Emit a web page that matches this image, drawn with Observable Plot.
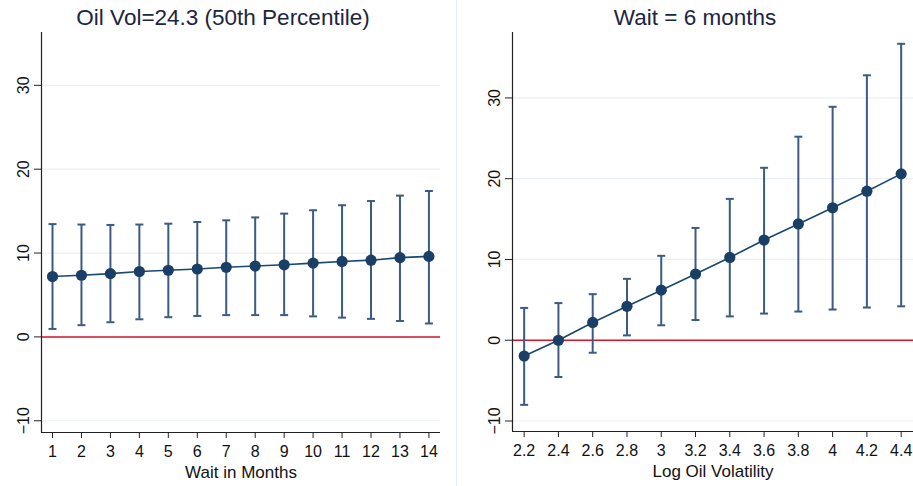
<!DOCTYPE html>
<html>
<head>
<meta charset="utf-8">
<script src="https://cdn.jsdelivr.net/npm/d3@7"></script>
<script src="https://cdn.jsdelivr.net/npm/@observablehq/plot@0.6"></script>
<style>
  html, body { margin: 0; padding: 0; background: #fff; }
  #wrap { position: relative; width: 913px; height: 486px; overflow: hidden; font-family: "Liberation Sans", Arial, sans-serif; }
  #left { position: absolute; left: 0; top: 0; }
  #right { position: absolute; left: 457px; top: 0; }
  #sep { position: absolute; left: 456px; top: 0; width: 1px; height: 486px; background: #e6edf3; }
</style>
</head>
<body>
<div id="wrap"><div id="left"></div><div id="sep"></div><div id="right"></div></div>
<script>
// ---- Data ----
const leftTitle = "Oil Vol=24.3 (50th Percentile)";
const rightTitle = "Wait = 6 months";
const leftXLabel = "Wait in Months";
const rightXLabel = "Log Oil Volatility";

const waitMonths = [1, 2, 3, 4, 5, 6, 7, 8, 9, 10, 11, 12, 13, 14];
const waitMean = [7.2, 7.35, 7.55, 7.8, 7.95, 8.1, 8.3, 8.45, 8.6, 8.8, 9.0, 9.15, 9.45, 9.6];
const waitLo = [0.95, 1.4, 1.75, 2.1, 2.35, 2.5, 2.6, 2.6, 2.6, 2.45, 2.3, 2.15, 1.9, 1.6];
const waitHi = [13.45, 13.4, 13.35, 13.4, 13.5, 13.7, 13.9, 14.25, 14.7, 15.1, 15.7, 16.2, 16.85, 17.4];

const logVol = [2.2, 2.4, 2.6, 2.8, 3.0, 3.2, 3.4, 3.6, 3.8, 4.0, 4.2, 4.4];
const volMean = [-1.95, 0.0, 2.2, 4.2, 6.2, 8.2, 10.25, 12.4, 14.4, 16.4, 18.45, 20.6];
const volLo = [-8.0, -4.55, -1.55, 0.6, 1.85, 2.5, 2.95, 3.3, 3.55, 3.8, 4.05, 4.2];
const volHi = [4.0, 4.6, 5.7, 7.6, 10.45, 13.9, 17.5, 21.35, 25.2, 28.9, 32.8, 36.7];

const yTicks = [-10, 0, 10, 20, 30];
const waitTicks = waitMonths;
const volTicks = logVol;

// ---- Styles ----
const markerColor = "#1a3f66";
const barColor = "#3b5b82";
const lineColor = "#1a476f";
const zeroColor = "#d3172e";
const gridColor = "#eaf0f3";
const font = "'Liberation Sans', Arial, sans-serif";

const capSymbol = {
  draw(ctx, size) {
    const w = Math.sqrt(size) / 2;
    ctx.moveTo(-w, 0);
    ctx.lineTo(w, 0);
  }
};

function panel({xs, mean, lo, hi, xTicks, xDomain, yDomain, width, marginLeft, marginRight, marginBottom, title, xLabel, tickFmt}) {
  const rows = xs.map((x, i) => ({x, mean: mean[i], lo: lo[i], hi: hi[i]}));
  return Plot.plot({
    width, height: 486,
    marginLeft, marginRight, marginTop: 32, marginBottom,
    style: {fontFamily: font, background: "transparent", overflow: "visible"},
    x: {domain: xDomain},
    y: {domain: yDomain},
    marks: [
      Plot.gridY(yTicks, {stroke: gridColor, strokeOpacity: 1, strokeWidth: 1.2}),
      Plot.ruleY([0], {stroke: zeroColor, strokeWidth: 1.5}),
      Plot.ruleX(rows, {x: "x", y1: "lo", y2: "hi", stroke: barColor, strokeWidth: 2}),
      Plot.dot(rows, {x: "x", y: "lo", symbol: capSymbol, r: 4.5, stroke: barColor, strokeWidth: 2, fill: "none"}),
      Plot.dot(rows, {x: "x", y: "hi", symbol: capSymbol, r: 4.5, stroke: barColor, strokeWidth: 2, fill: "none"}),
      Plot.line(rows, {x: "x", y: "mean", stroke: lineColor, strokeWidth: 1.6}),
      Plot.dot(rows, {x: "x", y: "mean", r: 5.6, fill: markerColor, stroke: "none"}),
      Plot.axisY({ticks: yTicks, tickRotate: -90, tickSize: 7, tickPadding: 6, fontSize: 16, label: null, color: "#111", stroke: "#222"}),
      Plot.axisX({ticks: xTicks, tickFormat: tickFmt, tickSize: 6, tickPadding: 7, fontSize: 16, label: null, color: "#111", stroke: "#222"}),
      Plot.ruleY([yDomain[0]], {stroke: "#222", strokeWidth: 1.2}),
      Plot.ruleX([xDomain[0]], {stroke: "#222", strokeWidth: 1.2}),
      Plot.text([title], {frameAnchor: "top", dx: -18, dy: -8, lineAnchor: "bottom", fontSize: 22.5, fill: "#1c2541"}),
      Plot.text([xLabel], {frameAnchor: "bottom", dy: 45, lineAnchor: "bottom", fontSize: 17, fill: "#111"})
    ]
  });
}

document.getElementById("left").appendChild(panel({
  xs: waitMonths, mean: waitMean, lo: waitLo, hi: waitHi,
  xTicks: waitTicks, xDomain: [0.62, 14.4], yDomain: [-11.4, 36.3],
  width: 457, marginLeft: 41, marginRight: 17, marginBottom: 54,
  title: leftTitle, xLabel: leftXLabel, tickFmt: d => String(d)
}));

document.getElementById("right").appendChild(panel({
  xs: logVol, mean: volMean, lo: volLo, hi: volHi,
  xTicks: volTicks, xDomain: [2.132, 4.472], yDomain: [-11.3, 38.1],
  width: 456, marginLeft: 55, marginRight: 0, marginBottom: 55,
  title: rightTitle, xLabel: rightXLabel, tickFmt: d => d3.format("")(+d.toFixed(1))
}));
</script>
</body>
</html>
